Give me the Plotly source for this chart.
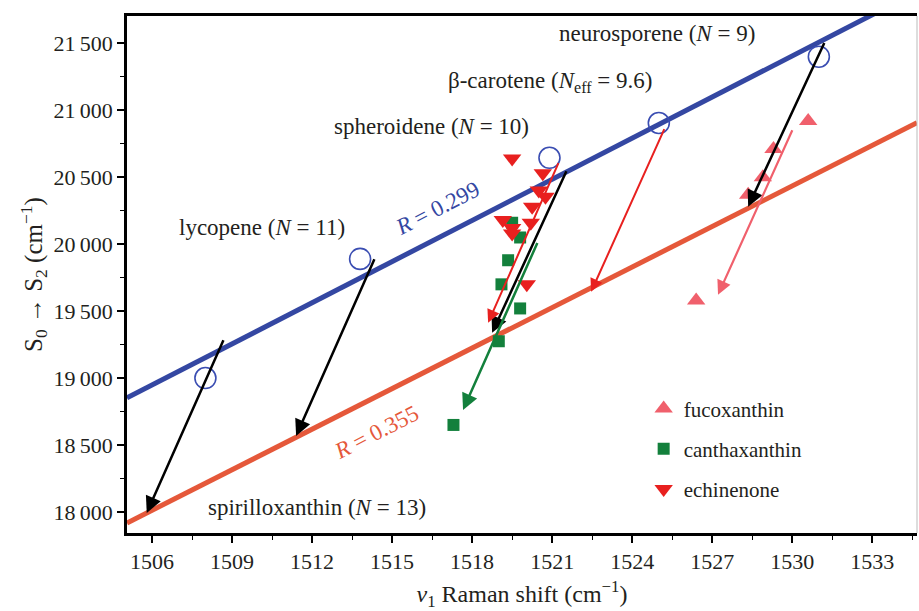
import plotly.graph_objects as go

# ---------------- data ----------------
# polyene carotenoids (open blue circles)
poly_x = [1508.0, 1513.8, 1520.9, 1525.0, 1531.0]
poly_y = [19000, 19890, 20645, 20905, 21400]

# fit lines (endpoints)
blue_fit_x = [1505.06, 1534.68]
blue_fit_y = [18852, 21885]
red_fit_x = [1505.06, 1534.68]
red_fit_y = [17918, 20907]

# fucoxanthin (up triangles)
fuco_x = [1530.6, 1529.3, 1528.9, 1528.35, 1526.4]
fuco_y = [20920, 20710, 20500, 20370, 19580]

# canthaxanthin (squares)
cantha_x = [1519.5, 1519.8, 1519.35, 1519.1, 1519.8, 1519.0, 1517.3]
cantha_y = [20160, 20050, 19880, 19700, 19520, 19275, 18650]

# echinenone (down triangles)
echi_x = [1519.5, 1520.65, 1520.5, 1520.75, 1520.25, 1519.15, 1520.2, 1519.5, 1519.5, 1520.05]
echi_y = [20640, 20530, 20400, 20355, 20280, 20180, 20160, 20120, 20080, 19700]

# arrows: tail -> tip
black_tail_x = [1508.7, 1514.36, 1521.56, 1531.23]
black_tail_y = [19293, 19898, 20556, 21513]
black_tip_x = [1505.8, 1511.4, 1518.75, 1528.35]
black_tip_y = [17993, 18568, 19338, 20280]

red_tail_x = [1525.23, 1521.26]
red_tail_y = [20870, 20616]
red_tip_x = [1522.46, 1518.6]
red_tip_y = [19644, 19413]

green_tail_x = [1520.47]
green_tail_y = [20020]
green_tip_x = [1517.66]
green_tip_y = [18762]

pink_tail_x = [1530.03]
pink_tail_y = [20862]
pink_tip_x = [1527.22]
pink_tip_y = [19622]

# labels
label_text = ["neurosporene (<i>N</i> = 9)",
              "β-carotene (<i>N</i><sub>eff</sub> = 9.6)",
              "spheroidene (<i>N</i> = 10)",
              "lycopene (<i>N</i> = 11)",
              "spirilloxanthin (<i>N</i> = 13)"]
label_x = [1524.94, 1520.92, 1516.46, 1510.12, 1512.19]
label_y = [21573, 21214, 20877, 20123, 18030]

x_ticks = [1506, 1509, 1512, 1515, 1518, 1521, 1524, 1527, 1530, 1533]
y_ticks = [18000, 18500, 19000, 19500, 20000, 20500, 21000, 21500]
y_ticktext = ["18\u2009000", "18\u2009500", "19\u2009000", "19\u2009500",
              "20\u2009000", "20\u2009500", "21\u2009000", "21\u2009500"]

BLUE = "#3447A2"
ORANGE = "#E5583A"
RED = "#E8201F"
PINK = "#F0606C"
GREEN = "#13803C"
TXT = "#231F20"
FONT = "Liberation Serif"

fig = go.Figure()

fig.add_trace(go.Scatter(x=blue_fit_x, y=blue_fit_y, mode="lines",
                         line=dict(color=BLUE, width=5), showlegend=False))
fig.add_trace(go.Scatter(x=red_fit_x, y=red_fit_y, mode="lines",
                         line=dict(color=ORANGE, width=5), showlegend=False))
fig.add_trace(go.Scatter(x=poly_x, y=poly_y, mode="markers", showlegend=False,
                         marker=dict(symbol="circle-open", size=21,
                                     color="#3A4DB2", line=dict(width=1.6))))

fig.add_trace(go.Scatter(x=fuco_x, y=fuco_y, mode="markers", name="fucoxanthin",
                         legendgroup="a",
                         marker=dict(symbol="triangle-up", size=16, color=PINK)))
fig.add_trace(go.Scatter(x=cantha_x, y=cantha_y, mode="markers", name="canthaxanthin",
                         legendgroup="b",
                         marker=dict(symbol="square", size=12, color=GREEN)))
fig.add_trace(go.Scatter(x=echi_x, y=echi_y, mode="markers", name="echinenone",
                         legendgroup="c",
                         marker=dict(symbol="triangle-down", size=16, color=RED)))

annotations = []

def add_arrows(tx, ty, hx, hy, color, width):
    for a, b, c, d in zip(tx, ty, hx, hy):
        annotations.append(dict(x=c, y=d, ax=a, ay=b, xref="x", yref="y",
                                axref="x", ayref="y", text="", showarrow=True,
                                arrowhead=2, arrowsize=1.3, arrowwidth=width,
                                arrowcolor=color, standoff=0, startstandoff=0))

add_arrows(black_tail_x, black_tail_y, black_tip_x, black_tip_y, "black", 2.5)
add_arrows(red_tail_x, red_tail_y, red_tip_x, red_tip_y, RED, 2)
add_arrows(green_tail_x, green_tail_y, green_tip_x, green_tip_y, GREEN, 2.5)
add_arrows(pink_tail_x, pink_tail_y, pink_tip_x, pink_tip_y, PINK, 2.2)

for t, x, y in zip(label_text, label_x, label_y):
    annotations.append(dict(x=x, y=y, xref="x", yref="y", text=t, showarrow=False,
                            font=dict(family=FONT, size=23, color=TXT)))

annotations.append(dict(x=1516.69, y=20265, xref="x", yref="y",
                        text="<i>R</i> = 0.299", showarrow=False, textangle=-27,
                        font=dict(family=FONT, size=23, color=BLUE)))
annotations.append(dict(x=1514.4, y=18590, xref="x", yref="y",
                        text="<i>R</i> = 0.355", showarrow=False, textangle=-27,
                        font=dict(family=FONT, size=23, color=ORANGE)))

fig.update_layout(
    width=919, height=611,
    margin=dict(l=127, r=2, t=16, b=78),
    paper_bgcolor="white", plot_bgcolor="white",
    font=dict(family=FONT, size=22, color=TXT),
    annotations=annotations,
    legend=dict(x=0.654, y=0.28, xanchor="left", yanchor="top",
                bgcolor="rgba(0,0,0,0)", tracegroupgap=10,
                font=dict(family=FONT, size=21, color=TXT),
                itemwidth=30),
    shapes=[dict(type="line", xref="paper", yref="paper", x0=1, x1=1, y0=0, y1=1,
                 line=dict(color="#bbb", width=1))],
)

fig.update_xaxes(range=[1505.06, 1534.68], tickmode="array", tickvals=x_ticks,
                 ticks="outside", ticklen=7, tickwidth=1.5, tickcolor="black",
                 showline=True, linecolor="black", linewidth=2.5, mirror=True,
                 showgrid=False, zeroline=False,
                 minor=dict(tick0=1504.5, dtick=1.5, ticks="outside", ticklen=4,
                            tickwidth=1.2, tickcolor="black"),
                 title=dict(text="<i>ν</i><sub>1</sub> Raman shift (cm<sup>−1</sup>)",
                            font=dict(family=FONT, size=24, color=TXT), standoff=14),
                 tickfont=dict(family=FONT, size=22, color=TXT))
fig.update_yaxes(range=[17843, 21704], tickmode="array", tickvals=y_ticks,
                 ticktext=y_ticktext,
                 ticks="outside", ticklen=7, tickwidth=1.5, tickcolor="black",
                 showline=True, linecolor="black", linewidth=2.5,
                 showgrid=False, zeroline=False,
                 minor=dict(tick0=17750, dtick=250, ticks="outside", ticklen=4,
                            tickwidth=1.2, tickcolor="black"),
                 title=dict(text="S<sub>0</sub> → S<sub>2</sub> (cm<sup>−1</sup>)",
                            font=dict(family=FONT, size=25, color=TXT), standoff=4),
                 tickfont=dict(family=FONT, size=22, color=TXT))

fig.write_html("out.html")
